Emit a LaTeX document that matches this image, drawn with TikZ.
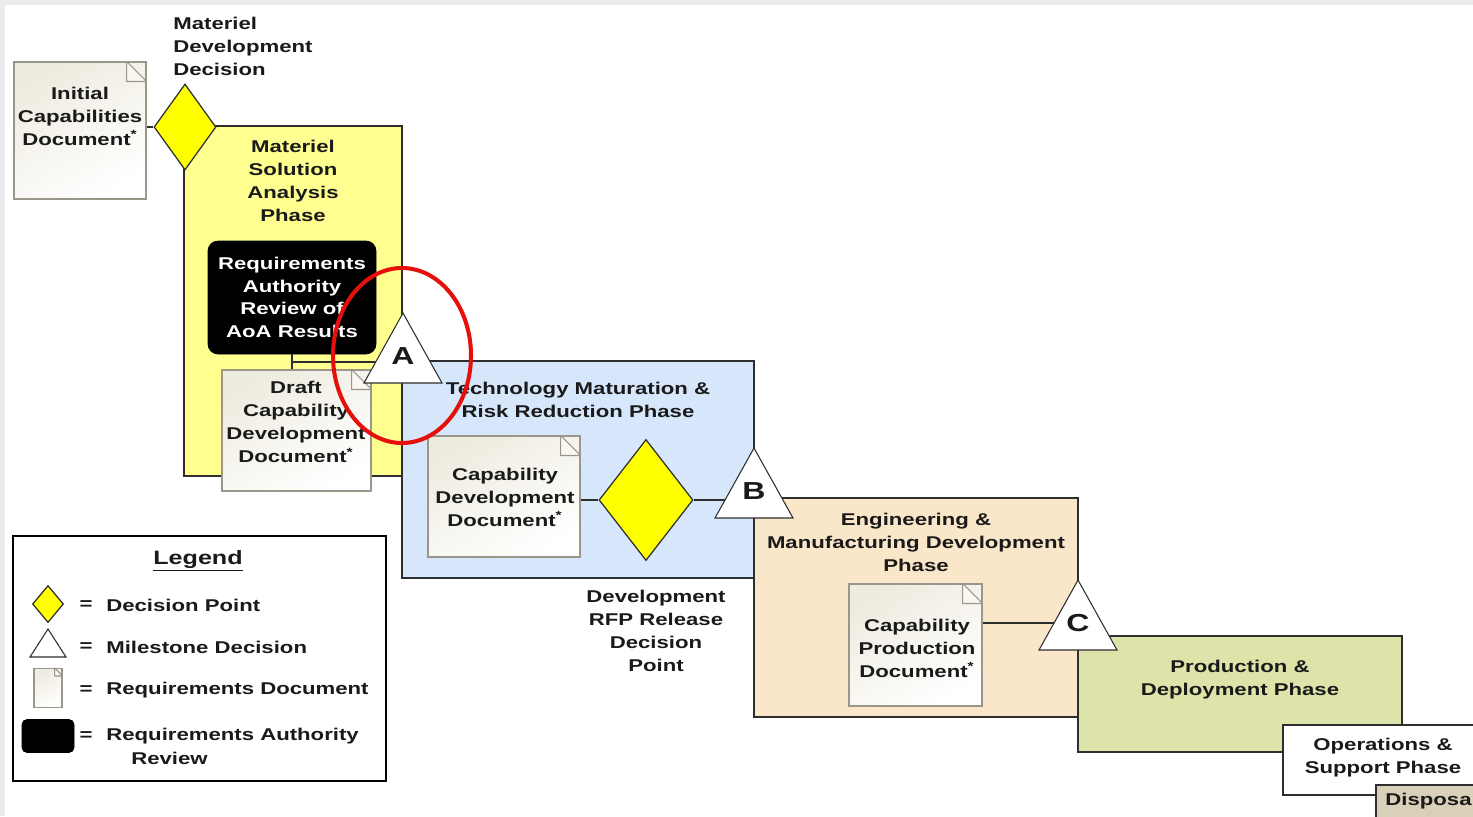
\documentclass[tikz,border=0pt]{standalone}
\usepackage{fontspec}
\setmainfont{Liberation Sans}[FakeStretch=1.3]
\usetikzlibrary{shapes.geometric,shapes.misc,calc}
\definecolor{Ink}{HTML}{1A1A1A}
\definecolor{Frame}{HTML}{EBEBEB}
\definecolor{Edge}{HTML}{2E2E2E}
\definecolor{MsaYellow}{HTML}{FFFF8F}
\definecolor{TmrrBlue}{HTML}{D6E6FB}
\definecolor{EmdPeach}{HTML}{FAE6C8}
\definecolor{PdGreen}{HTML}{DDE3A9}
\definecolor{DispTan}{HTML}{D9D0BA}
\definecolor{DecYellow}{HTML}{FFFF00}
\definecolor{DocEdge}{HTML}{9A968A}
\definecolor{DocShade}{HTML}{EEEBDF}
\definecolor{RedMark}{HTML}{E5100C}
\tikzset{phasebox/.style={draw=Edge,line width=0.6pt},phaselabel/.style={font=\fontsize{9.7}{13.1}\selectfont\bfseries,text=Ink,align=center,inner sep=0pt},docnode/.style={chamfered rectangle,chamfered rectangle corners=north east,chamfered rectangle sep=4mm,draw=DocEdge,line width=0.6pt,top color=DocShade,bottom color=white,shading angle=30,inner sep=0pt},fold/.style={draw=DocEdge,fill=DocShade!40,line width=0.6pt,line join=round},rarbox/.style={rectangle,fill=black,draw=black,rounded corners=2mm,text=white,align=center,inner sep=0pt,font=\fontsize{9.7}{12.9}\selectfont\bfseries},decision/.style={diamond,draw=Edge,fill=DecYellow,line width=0.7pt,inner sep=0pt},milestone/.style={fill=white,draw=Edge,line width=0.6pt},milestonelabel/.style={font=\fontsize{14}{16}\selectfont\bfseries,text=Ink,inner sep=0pt},link/.style={draw=Edge,line width=0.6pt},highlight/.style={draw=RedMark,line width=2.3pt},legendframe/.style={draw=black,line width=1.4pt,fill=white}}
\begin{document}
\begin{tikzpicture}[x=0.2mm,y=-0.2mm,font=\fontsize{9.7}{13.1}\selectfont\bfseries,text=Ink]
\useasboundingbox (0,0) rectangle (1473,816);
\clip (0,0) rectangle (1473,816);
\fill[Frame] (0,0) rectangle (1473,816);\fill[white] (5,5) rectangle (1473,816);
\draw[phasebox,fill=MsaYellow] (184,126) rectangle (402,476);
\draw[phasebox,fill=TmrrBlue] (402,361) rectangle (754,578);
\draw[phasebox,fill=EmdPeach] (754,498) rectangle (1078,717);
\draw[phasebox,fill=PdGreen] (1078,636) rectangle (1402,752);
\draw[phasebox,fill=white] (1283,725) rectangle (1490,795);
\draw[phasebox,fill=DispTan] (1376,785) rectangle (1490,830);
\node[phaselabel,anchor=west,align=left] (mddtxt) at (173,46) {Materiel\\Development\\Decision};
\node[phaselabel] (msatxt) at (293,181) {Materiel\\Solution\\Analysis\\Phase};
\node[phaselabel] (tmrrtxt) at (578,400) {Technology Maturation \&\\Risk Reduction Phase};
\node[phaselabel] (rfptxt) at (656,631) {Development\\RFP Release\\Decision\\Point};
\node[phaselabel] (emdtxt) at (916,542) {Engineering \&\\Manufacturing Development\\Phase};
\node[phaselabel] (pdtxt) at (1240,680) {Production \&\\Deployment Phase};
\node[phaselabel] (ostxt) at (1383,758) {Operations \&\\Support Phase};
\node[phaselabel,anchor=west] (disptxt) at (1385,801) {Disposal};
\node[docnode,minimum width=2.64cm,minimum height=2.74cm] (icd) at (80,130.5) {};
\node[docnode,minimum width=2.98cm,minimum height=2.42cm] (dcdd) at (296.5,430.5) {};
\node[docnode,minimum width=3.04cm,minimum height=2.42cm] (cdd) at (504,496.5) {};
\node[docnode,minimum width=2.66cm,minimum height=2.44cm] (cpd) at (915.5,645) {};
\foreach \d in {icd,dcdd,cdd,cpd}{\coordinate (corner) at (\d.north -| \d.east);\filldraw[fold] ($(corner)+(-20,0)$) -- ($(corner)+(-20,20)$) -- ($(corner)+(0,20)$) -- cycle;}
\node[phaselabel] (icdtxt) at (80,116) {Initial\\Capabilities\\Document\textsuperscript{*}};
\node[phaselabel] (dcddtxt) at (296,422) {Draft\\Capability\\Development\\Document\textsuperscript{*}};
\node[phaselabel] (cddtxt) at (505,497) {Capability\\Development\\Document\textsuperscript{*}};
\node[phaselabel] (cpdtxt) at (917,648) {Capability\\Production\\Document\textsuperscript{*}};
\node[rarbox,minimum width=3.36cm,minimum height=2.26cm] (rar) at (292,297.5) {Requirements\\Authority\\Review of\\AoA Results};
\node[decision,minimum width=1.24cm,minimum height=1.72cm] (mdd) at (185,127) {};
\node[decision,minimum width=1.88cm,minimum height=2.42cm] (rfp) at (646,500) {};
\coordinate (A) at (403,356);\coordinate (B) at (754,491);\coordinate (C) at (1078,623);\coordinate (rarjoin) at (291,362);
\draw[link] (mdd.west -| icd.east) -- (mdd.west);
\draw[link] (rar.south) -- (rar.south |- dcdd.north);
\draw[link] (rarjoin) -- (rarjoin -| A);
\draw[link] (rfp.west -| cdd.east) -- (rfp.west);
\draw[link] (rfp.east) -- (rfp.east -| B);
\draw[link] (C -| cpd.east) -- (C);
\foreach \m in {A,B,C}{\filldraw[milestone] ($(\m)+(0,-43)$) -- ($(\m)+(39,27)$) -- ($(\m)+(-39,27)$) -- cycle;\node[milestonelabel] (lbl\m) at (\m) {\m};}
\draw[highlight] (402,355.5) ellipse [x radius=69,y radius=87.5];
\draw[legendframe] (13,536) rectangle (386,781);
\node[font=\fontsize{11}{13}\selectfont\bfseries] (legtitle) at (198,561) {\underline{Legend}};
\node[decision,minimum width=0.62cm,minimum height=0.74cm] (legdp) at (48,604) {};
\coordinate (legms) at (48,647);
\filldraw[milestone] ($(legms)+(0,-18)$) -- ($(legms)+(18,10)$) -- ($(legms)+(-18,10)$) -- cycle;
\node[docnode,chamfered rectangle sep=1.6mm,minimum width=0.56cm,minimum height=0.78cm] (legdoc) at (48,688) {};
\coordinate (legcorner) at (legdoc.north -| legdoc.east);
\filldraw[fold] ($(legcorner)+(-8,0)$) -- ($(legcorner)+(-8,8)$) -- ($(legcorner)+(0,8)$) -- cycle;
\node[rarbox,minimum width=1.04cm,minimum height=0.66cm,rounded corners=1mm] (legrar) at (48,736) {};
\foreach \y/\t in {605/Decision Point,647/Milestone Decision,690/Requirements Document,736/Requirements Authority}{\node[inner sep=0pt] (eq\y) at (86,\y) {=};\node[inner sep=0pt,anchor=west] (leg\y) at (106,\y) {\t};}
\node[inner sep=0pt,anchor=west] (legreview) at (131,758) {Review};
\end{tikzpicture}
\end{document}
